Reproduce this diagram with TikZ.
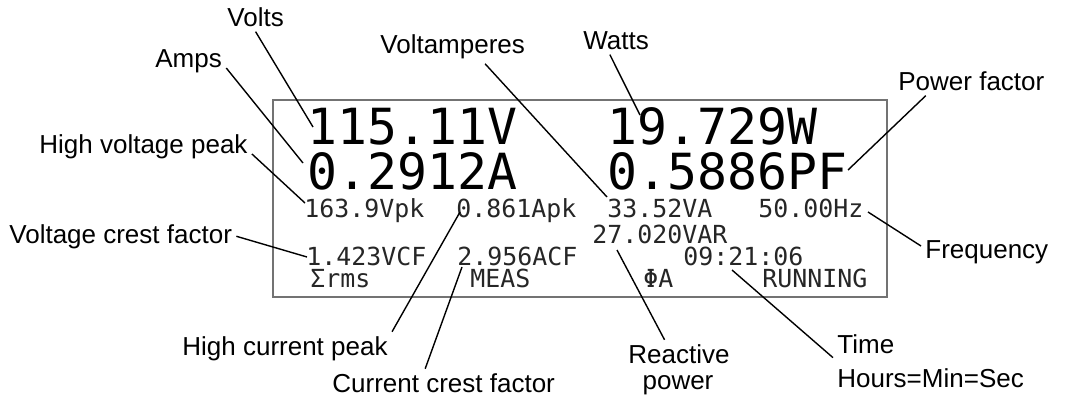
\documentclass[tikz,border=0pt]{standalone}
\usepackage{fontspec}
\setmainfont{Liberation Sans}
\newfontfamily\lcdfont{DejaVu Sans Mono}

\tikzset{
 lbl/.style={anchor=base west, inner sep=2pt, font=\fontsize{13}{15}\selectfont},
 lcdbig/.style={anchor=base west, inner sep=0pt, font=\lcdfont\fontsize{24.9}{28}\selectfont},
 lcdsmall/.style={anchor=base west, inner sep=0pt, text=black!85, font=\lcdfont\fontsize{12.45}{14}\selectfont},
 pointer/.style={black, line width=0.7pt},
}

\begin{document}
\begin{tikzpicture}[x=0.5pt, y=-0.5pt]
\useasboundingbox (0,0) rectangle (1067,401);
% display panel
\draw[black!55, line width=1.3pt, fill=white] (273,100) rectangle (887,297);
\foreach \t/\x/\y [count=\i] in {115.11V/307/145, 0.2912A/307/190, 19.729W/607/145, 0.5886PF/607/190} {
 \node[lcdbig] (big\i) at (\x,\y) {\t};
}
\foreach \t/\x/\y [count=\i] in {163.9Vpk/304/218, 0.861Apk/456/218, 33.52VA/607/218, 50.00Hz/758/218,
  27.020VAR/592/243, 1.423VCF/306/265, 2.956ACF/457/265, 09:21:06/683/265,
  Σrms/310/287, MEAS/470/287, ΦA/643/287, RUNNING/762/287} {
 \node[lcdsmall] (small\i) at (\x,\y) {\t};
}
% pointer tips
\foreach \n/\x/\y in {tvolts/313/127, tamps/303/163, thvp/305/203, tvcf/307/257, thcp/460/212, tccf/462/267,
  tva/607/197, twatts/640/115, tpf/848/170, tfreq/868/212, ttime/732/270, treact/617/250} {
 \coordinate (\n) at (\x,\y);
}
% labels
\node[lbl] (volts) at (223,27) {Volts};
\node[lbl] (amps) at (151,68) {Amps};
\node[lbl] (hvp) at (35,154) {High voltage peak};
\node[lbl] (vcf) at (5,243) {Voltage crest factor};
\node[lbl] (hcp) at (178,355) {High current peak};
\node[lbl] (ccf) at (328,392) {Current crest factor};
\node[lbl] (va) at (376,54) {Voltamperes};
\node[lbl] (watts) at (579,50) {Watts};
\node[lbl] (pf) at (894,91) {Power factor};
\node[lbl] (freq) at (921,258) {Frequency};
\node[lbl] (react) at (624,363) {Reactive};
\node[lbl, anchor=base] (power) at (678,389) {power};
\node[lbl] (time) at (833,353) {Time};
\node[lbl] (hms) at (833,387) {Hours=Min=Sec};
% pointers
\draw[pointer] (volts.south) -- (tvolts);
\draw[pointer] (amps.base east) -- (tamps);
\draw[pointer] (hvp.base east) -- (thvp);
\draw[pointer] (vcf.east) -- (tvcf);
\draw[pointer] (hcp.north east) -- (thcp);
\draw[pointer] (ccf.143) -- (tccf);
\draw[pointer] (va.-27) -- (tva);
\draw[pointer] (watts.245) -- (twatts);
\draw[pointer] (pf.197) -- (tpf);
\draw[pointer] (freq.175) -- (tfreq);
\draw[pointer] (time.south west) -- (ttime);
\draw[pointer] (react.136) -- (treact);
\end{tikzpicture}
\end{document}
